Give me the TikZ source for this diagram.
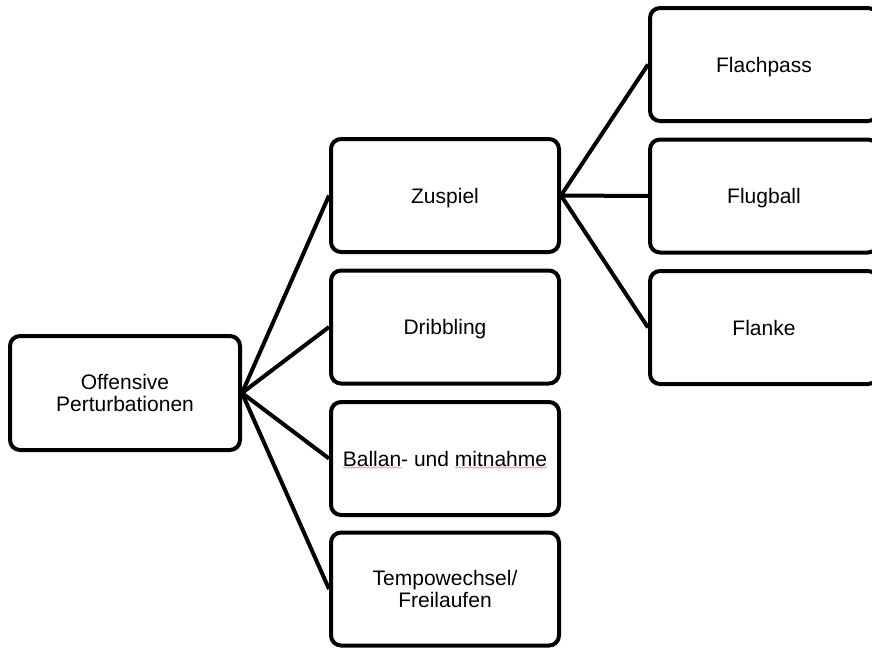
\documentclass[tikz,border=0pt]{standalone}
\usepackage{fontspec}
\setmainfont{Liberation Sans}
\usetikzlibrary{calc,decorations.pathmorphing}
\begin{document}
\begin{tikzpicture}[x=1pt,y=-1pt,
  box/.style={draw=black, line width=4pt, rounded corners=10pt, fill=white,
    minimum width=228pt, minimum height=113pt, inner sep=0pt, align=center,
    text depth=0pt, font=\fontsize{21}{21.5}\selectfont},
  link/.style={draw=black, line width=4pt},
  spell/.style={draw=red!45, line width=0.7pt, decorate,
    decoration={snake, amplitude=0.6pt, segment length=3pt}}]
\clip (0,0) rectangle (872,648);

% root
\node[box, minimum width=230pt, minimum height=114pt] (off) at (125,393) {Offensive\\Perturbationen};

% second level
\node[box] (zus) at (445,195.5) {Zuspiel};
\node[box] (dri) at (445,327)   {Dribbling};
\node[box] (bal) at (445,458.5) {Ballan- und mitnahme};
\node[box] (tem) at (445,589)   {Tempowechsel/\\Freilaufen};

% third level (runs past the right edge)
\node[box] (fla) at (764,64.5)  {Flachpass};
\node[box] (flu) at (764,196)   {Flugball};
\node[box] (flk) at (764,327.5) {Flanke};

% connectors
\foreach \t in {zus,dri,bal,tem} \draw[link] (off.east) -- (\t.west);
\foreach \t in {fla,flu,flk} \draw[link] (zus.east) -- (\t.west);

% spell-check marks
\draw[spell] ($(bal.center)+(-102,9)$) -- ($(bal.center)+(-44,9)$);
\draw[spell] ($(bal.center)+(10,9)$) -- ($(bal.center)+(102,9)$);
\end{tikzpicture}
\end{document}
